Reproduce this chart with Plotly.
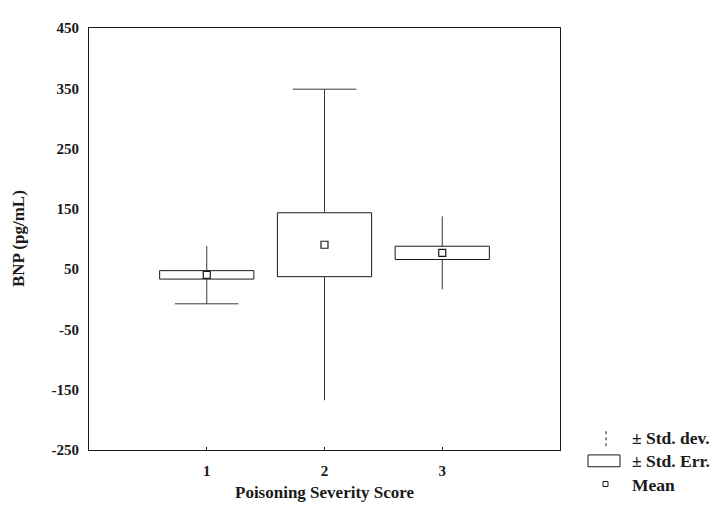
import plotly.graph_objects as go

# ---- data ----
categories = [1, 2, 3]
means = [40.5, 90.5, 77.0]
std_err = [7.0, 53.0, 11.0]
std_dev = [48.0, 258.0, 60.5]
y_ticks = [-250, -150, -50, 50, 150, 250, 350, 450]
y_tick_labels = ["-250", "-150", "-50", "50", "150", "250", "350", "450"]
x_ticks = [1, 2, 3]
x_tick_labels = ["1", "2", "3"]

# ---- styling ----
INK = "#1a1a1a"
FAM = "Liberation Serif"
TICK_FONT = dict(family=FAM, size=15, color=INK, weight="bold")
TITLE_FONT = dict(family=FAM, size=17, color=INK, weight="bold")
LEG_FONT = dict(family=FAM, size=17.5, color=INK, weight="bold")
BOX_HALF = 0.4
CAP_HALF = 0.27
show_lower_cap = [True, False, False]
show_upper_cap = [False, True, False]

fig = go.Figure()

for i, c in enumerate(categories):
    m, se, sd = means[i], std_err[i], std_dev[i]
    wx = [c, c, None, c, c]
    wy = [m + se, m + sd, None, m - se, m - sd]
    if show_upper_cap[i]:
        wx += [None, c - CAP_HALF, c + CAP_HALF]
        wy += [None, m + sd, m + sd]
    if show_lower_cap[i]:
        wx += [None, c - CAP_HALF, c + CAP_HALF]
        wy += [None, m - sd, m - sd]
    fig.add_trace(go.Scatter(x=wx, y=wy, mode="lines",
                             line=dict(color="#3a3a3a", width=1), hoverinfo="skip",
                             showlegend=False))
    fig.add_trace(go.Scatter(
        x=[c - BOX_HALF, c + BOX_HALF, c + BOX_HALF, c - BOX_HALF, c - BOX_HALF],
        y=[m + se, m + se, m - se, m - se, m + se],
        mode="lines", line=dict(color=INK, width=1),
        fill="toself", fillcolor="white", hoverinfo="skip", showlegend=False))

fig.add_trace(go.Scatter(x=categories, y=means, mode="markers",
                         marker=dict(symbol="square-open", size=7,
                                     color=INK, line=dict(width=1.2)),
                         showlegend=False))

# ---- page geometry (page has an 8px body margin) ----
OFF = 8
L, R, T, B = 89, 560, 22, 450          # plot area in page pixels
FW, FH = 722 - OFF, 508 - OFF
W, H = R - L, B - T
def px(x):
    return (x - L) / W
def py(y):
    return (B - y) / H

shapes = [
    dict(type="line", xref="paper", yref="paper",
         x0=px(606), x1=px(606), y0=py(431), y1=py(446),
         line=dict(color=INK, width=1, dash="dot")),
    dict(type="rect", xref="paper", yref="paper",
         x0=px(588), x1=px(620), y0=py(455), y1=py(467),
         line=dict(color=INK, width=1), fillcolor="white"),
    dict(type="rect", xref="paper", yref="paper",
         x0=px(603), x1=px(608), y0=py(482), y1=py(487),
         line=dict(color=INK, width=1)),
]
legend_texts = [("± Std. dev.", 438), ("± Std. Err.", 461), ("Mean", 485)]
annotations = [
    dict(text=t, xref="paper", yref="paper", x=px(630), y=py(yy),
         xanchor="left", yanchor="middle", showarrow=False, font=LEG_FONT)
    for t, yy in legend_texts
]
annotations.append(dict(text="BNP (pg/mL)", xref="paper", yref="paper",
                        x=px(18), y=0.5, textangle=-90, xanchor="center",
                        yanchor="middle", showarrow=False, font=TITLE_FONT))
annotations.append(dict(text="Poisoning Severity Score", xref="paper", yref="paper",
                        x=0.5, y=py(493), xanchor="center", yanchor="middle",
                        showarrow=False, font=TITLE_FONT))

fig.update_layout(
    width=FW, height=FH,
    margin=dict(l=L - OFF, r=(OFF + FW) - R, t=T - OFF, b=(OFF + FH) - B),
    paper_bgcolor="white", plot_bgcolor="white",
    font=TICK_FONT,
    shapes=shapes, annotations=annotations,
    showlegend=False,
)
fig.update_xaxes(range=[0, 4], tickvals=x_ticks, ticktext=x_tick_labels,
                 showgrid=False, zeroline=False, showline=True, mirror=True,
                 linecolor=INK, linewidth=1, ticks="inside", ticklen=3,
                 tickcolor=INK, ticklabelstandoff=7, tickfont=TICK_FONT)
fig.update_yaxes(range=[-250, 450], tickvals=y_ticks, ticktext=y_tick_labels,
                 showgrid=False, zeroline=False, showline=True, mirror=True,
                 linecolor=INK, linewidth=1, ticks="", ticklabelstandoff=6,
                 tickfont=TICK_FONT)

fig.write_html("out.html")
